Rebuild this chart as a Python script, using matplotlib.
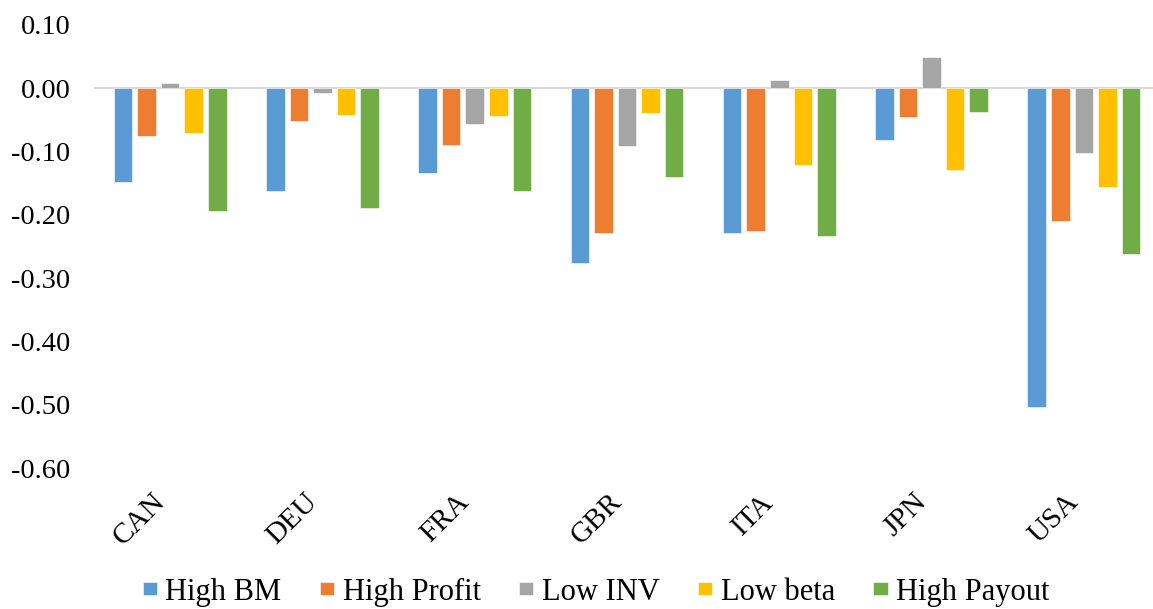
import numpy as np
import matplotlib
matplotlib.use("Agg")
import matplotlib.pyplot as plt

# data
countries = ["CAN", "DEU", "FRA", "GBR", "ITA", "JPN", "USA"]
high_bm = [-0.148, -0.163, -0.134, -0.276, -0.228, -0.081, -0.503]
high_profit = [-0.076, -0.051, -0.090, -0.228, -0.226, -0.045, -0.210]
low_inv = [0.008, -0.008, -0.056, -0.091, 0.013, 0.050, -0.102]
low_beta = [-0.071, -0.042, -0.044, -0.039, -0.122, -0.129, -0.156]
high_payout = [-0.194, -0.189, -0.163, -0.140, -0.233, -0.038, -0.262]

series = [
    ("High BM", high_bm, "#5B9BD5"),
    ("High Profit", high_profit, "#ED7D31"),
    ("Low INV", low_inv, "#A5A5A5"),
    ("Low beta", low_beta, "#FFC000"),
    ("High Payout", high_payout, "#70AD47"),
]
yticks = [0.10, 0.00, -0.10, -0.20, -0.30, -0.40, -0.50, -0.60]

plt.rcParams["font.family"] = ["Liberation Serif", "DejaVu Serif"]

fig = plt.figure(figsize=(11.53, 6.09), dpi=100)
ax = fig.add_axes([94 / 1153, 141 / 609, 1066 / 1153, 443 / 609])

x = np.arange(len(countries))
step = 0.155
width = 0.122
for i, (name, vals, color) in enumerate(series):
    ax.bar(x + (i - 2) * step, vals, width, color=color, label=name,
           edgecolor="white", linewidth=0.4, zorder=2)

ax.axhline(0, color="#D9D9D9", linewidth=1.6, zorder=1)

ax.set_xlim(-0.5, len(countries) - 0.5)
ax.set_ylim(-0.60, 0.10)
ax.set_yticks(yticks)
ax.set_yticklabels([f"{v:.2f}" for v in yticks], fontsize=20.5)
ax.set_xticks(x)
ax.set_xticklabels(countries, rotation=45, ha="right", va="top", fontsize=21)
ax.tick_params(axis="y", length=0, pad=17)
ax.tick_params(axis="x", length=0, pad=15)
for s in ax.spines.values():
    s.set_visible(False)

fig.legend(loc="center", bbox_to_anchor=(596 / 1153, 17 / 609), ncol=5,
           frameon=False, fontsize=22, handlelength=0.47, handleheight=0.3,
           handletextpad=0.28, columnspacing=1.25)

fig.savefig("out.png", dpi=100)
